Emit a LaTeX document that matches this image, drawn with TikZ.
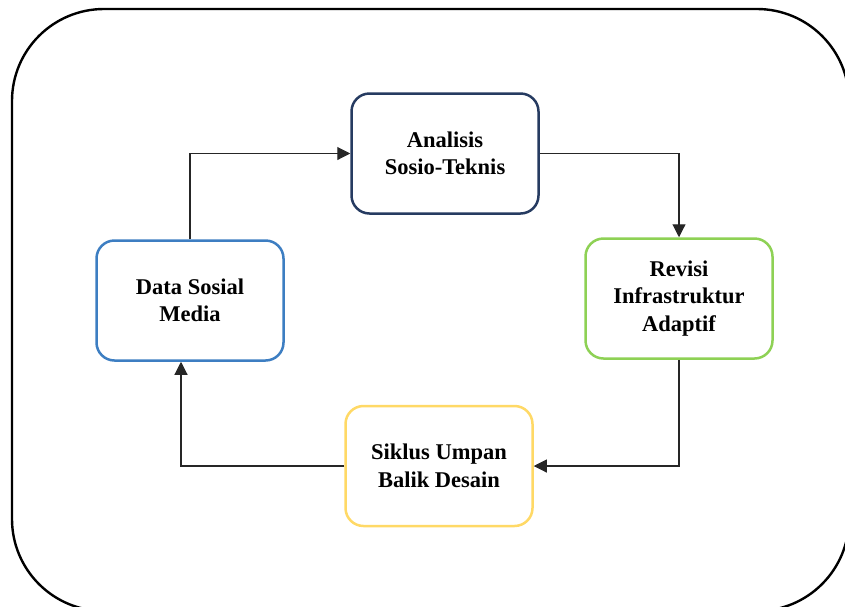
\documentclass[tikz,border=0pt]{standalone}
\usepackage{fontspec}
\setmainfont{Liberation Serif}
\usetikzlibrary{arrows.meta}
\definecolor{navyline}{HTML}{263B61}
\definecolor{blueline}{HTML}{3D7EC2}
\definecolor{greenline}{HTML}{8ED155}
\definecolor{yellowline}{HTML}{FFD966}
\tikzset{
  stagebox/.style={draw, rounded corners=18pt, line width=2.5pt, fill=white,
    minimum width=187pt, minimum height=120pt, align=center,
    font=\fontsize{22.5}{27.5}\selectfont\bfseries},
  flow/.style={line width=1.1pt, draw=black!85,
    -{Triangle[width=13pt,length=13pt]}}
}
\begin{document}
\begin{tikzpicture}[x=1pt,y=-1pt]
  \useasboundingbox (0,0) rectangle (845,606);
  \clip (0,0) rectangle (845,606);
  \draw[line width=2.4pt, rounded corners=92pt] (12,9) rectangle (849,611);
  \node[stagebox, draw=navyline] (analisis) at (445,153.5) {Analisis\\Sosio-Teknis};
  \node[stagebox, draw=blueline] (data) at (190,300.5) {Data Sosial\\Media};
  \node[stagebox, draw=greenline] (revisi) at (679,298.5) {Revisi\\Infrastruktur\\Adaptif};
  \node[stagebox, draw=yellowline] (siklus) at (439,466) {Siklus Umpan\\Balik Desain};
  \draw[flow] (data.north) |- (analisis.west);
  \draw[flow] (analisis.east) -| (revisi.north);
  \draw[flow] (revisi.south) |- (siklus.east);
  \draw[flow] (siklus.west) -| ([xshift=-9pt]data.south);
\end{tikzpicture}
\end{document}
